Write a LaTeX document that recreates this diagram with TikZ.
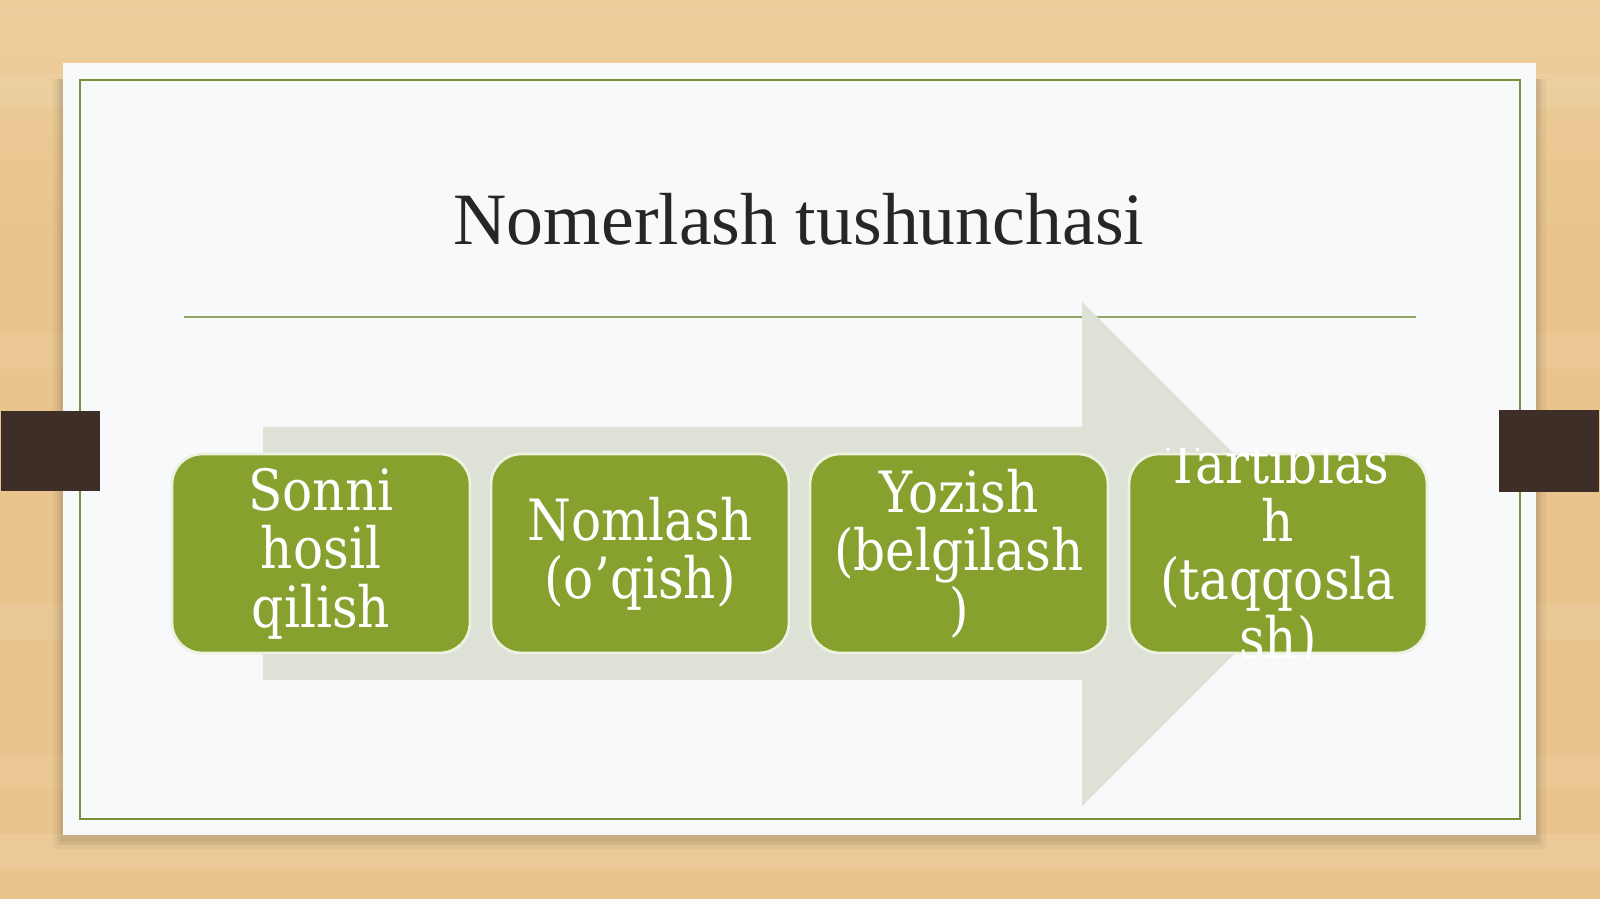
\documentclass[tikz,border=0pt]{standalone}
\usepackage{fontspec}
\setmainfont{Liberation Serif}
\newfontfamily\boxfont[FakeStretch=0.88]{DejaVu Serif}
\usepackage{xcolor}
\usetikzlibrary{positioning}
\definecolor{woodtan}{HTML}{E9C48D}
\definecolor{woodlight}{HTML}{F0D3A2}
\definecolor{cardwhite}{HTML}{F8F9FA}
\definecolor{framegreen}{HTML}{76913A}
\definecolor{stepgreen}{HTML}{87A12F}
\definecolor{arrowgray}{HTML}{DDE1D6}
\definecolor{tabbrown}{HTML}{3D2F27}

\begin{document}
\begin{tikzpicture}[
  stepbox/.style={draw=white!85!stepgreen,line width=0.8pt,fill=stepgreen,
                  rounded corners=0.3cm,minimum width=2.98cm,minimum height=1.99cm,
                  text=white,align=center,inner sep=0pt,
                  font=\boxfont\fontsize{16.2}{16.6}\selectfont},
  tab/.style={fill=tabbrown,inner sep=0pt,minimum height=0.8cm,minimum width=1cm},
  title/.style={font=\fontsize{21}{25}\selectfont,text=black!85,anchor=base}]
  \useasboundingbox (0,0) rectangle (16,8.99);
  % wood background
  \fill[woodtan] (0,0) rectangle (16,8.99);
  \shade[top color=woodlight,bottom color=woodtan,opacity=0.7] (0,6.5) rectangle (16,8.99);
  \foreach \y/\o in {0.3/0.1,1.1/0.06,2.6/0.08,5.3/0.06,7.9/0.08}
    \fill[white,opacity=\o] (0,\y) rectangle (16,\y+0.35);
  % card with shadow
  \foreach \d/\o in {0.10/0.04,0.06/0.05,0.03/0.06}
    \fill[black,opacity=\o] (0.63-\d,0.64-\d-0.04) rectangle (15.36+\d,8.2);
  \fill[cardwhite] (0.63,0.64) rectangle (15.36,8.36);
  \draw[framegreen,line width=0.6pt] (0.80,0.80) rectangle (15.20,8.19);
  % title and rule
  \node[title] (head) at (7.99,6.54) {Nomerlash tushunchasi};
  \draw[framegreen!80,line width=0.6pt] (1.84,5.82) -- (14.16,5.82);
  % big arrow behind the steps
  \fill[arrowgray] (2.63,4.72) -- (10.82,4.72) -- (10.82,5.97) -- (13.34,3.45)
    -- (10.82,0.93) -- (10.82,2.19) -- (2.63,2.19) -- cycle;
  % side tabs
  \node[tab,anchor=south west,minimum width=0.99cm] (tabl) at (0,4.07) {};
  \node[tab,anchor=south east,minimum height=0.82cm] (tabr) at (16,4.06) {};
  % steps
  \node[stepbox] (s1) at (3.21,3.455) {Sonni\\hosil\\qilish};
  \node[stepbox] (s2) at (6.40,3.455) {Nomlash\\(o’qish)};
  \node[stepbox] (s3) at (9.59,3.455) {Yozish\\(belgilash\\)};
  \node[stepbox] (s4) at (12.78,3.455) {};
  \begin{scope}
    \clip (11.29,2.40) rectangle (14.27,4.50);
    \node[stepbox,draw=none,fill=none] (s4t) at (12.78,3.455)
      {Tartiblas\\h\\(taqqosla\\sh)};
  \end{scope}
\end{tikzpicture}
\end{document}
